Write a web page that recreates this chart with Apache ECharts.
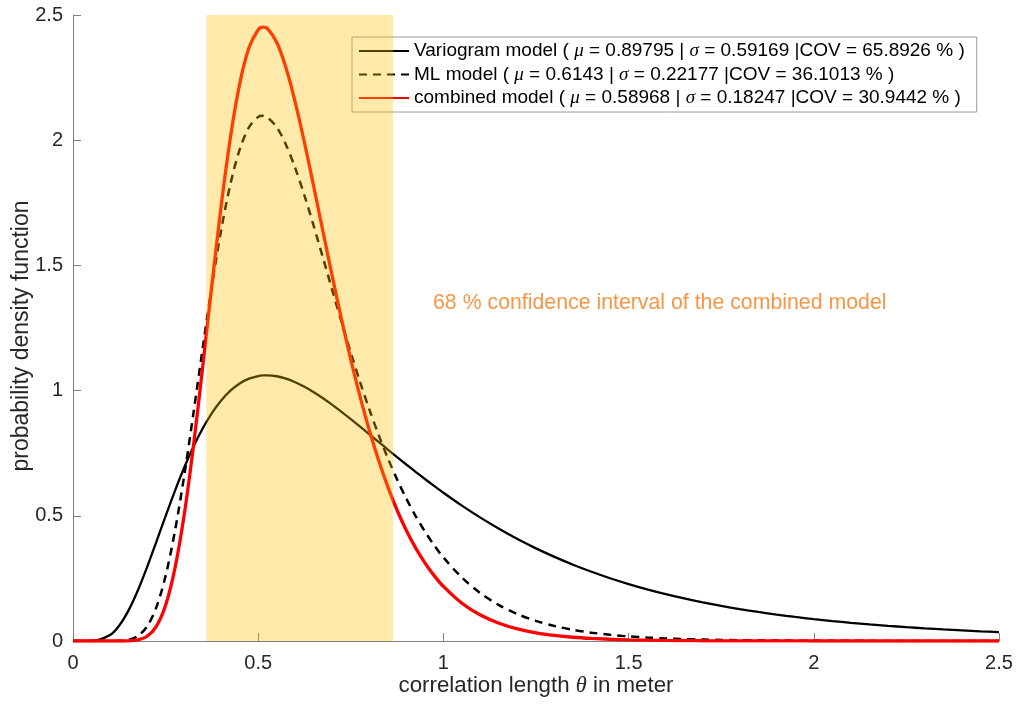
<!DOCTYPE html>
<html>
<head>
<meta charset="utf-8">
<script src="https://cdn.jsdelivr.net/npm/echarts@6/dist/echarts.min.js"></script>
<style>
html,body{margin:0;padding:0;background:#fff;}
#chart{width:1021px;height:706px;}
</style>
</head>
<body>
<div id="chart"></div>
<script>
// ---- data ----
const XS = [0, 0.05, 0.10,
  0.125, 0.15, 0.175, 0.20, 0.225, 0.25, 0.275, 0.30, 0.325, 0.35, 0.375, 0.40,
  0.425, 0.45, 0.475, 0.50, 0.5125, 0.525, 0.55, 0.575, 0.60, 0.625, 0.65, 0.675, 0.70,
  0.725, 0.75, 0.775, 0.80, 0.825, 0.85, 0.875, 0.90, 0.925, 0.95, 0.975, 1.00,
  1.05, 1.10, 1.15, 1.20, 1.25, 1.30, 1.35, 1.40, 1.45, 1.50,
  1.55, 1.60, 1.65, 1.70, 1.75, 1.80, 1.85, 1.90, 1.95, 2.00,
  2.05, 2.10, 2.15, 2.20, 2.25, 2.30, 2.35, 2.40, 2.45, 2.50];
const VARIOGRAM = [0, 0.0005, 0.0239,
  0.0620, 0.1222, 0.2016, 0.2949, 0.3960, 0.4988, 0.5986, 0.6917, 0.7756, 0.8487, 0.9104, 0.9606,
  0.9997, 1.0285, 1.0476, 1.0581, 1.0605, 1.0610, 1.0573, 1.0478, 1.0335, 1.0152, 0.9936, 0.9693, 0.9429,
  0.9149, 0.8858, 0.8559, 0.8256, 0.7952, 0.7647, 0.7346, 0.7048, 0.6756, 0.6471, 0.6193, 0.5922,
  0.5407, 0.4927, 0.4483, 0.4074, 0.3700, 0.3359, 0.3047, 0.2764, 0.2507, 0.2274,
  0.2063, 0.1872, 0.1700, 0.1544, 0.1402, 0.1275, 0.1159, 0.1055, 0.0960, 0.0875,
  0.0797, 0.0727, 0.0663, 0.0606, 0.0554, 0.0506, 0.0463, 0.0424, 0.0388, 0.0356];
const ML = [0, 0, 0,
  0.0006, 0.0045, 0.0193, 0.0577, 0.1343, 0.2599, 0.4370, 0.6580, 0.9080, 1.1677, 1.4176, 1.6407,
  1.8249, 1.9627, 2.0516, 2.0931, 2.0972, 2.0912, 2.0519, 1.9821, 1.8887, 1.7784, 1.6571, 1.5299, 1.4012,
  1.2741, 1.1513, 1.0344, 0.9249, 0.8233, 0.7300, 0.6450, 0.5682, 0.4991, 0.4374, 0.3825, 0.3338,
  0.2531, 0.1908, 0.1434, 0.1074, 0.0802, 0.0599, 0.0447, 0.0333, 0.0248, 0.0185,
  0.0138, 0.0103, 0.0077, 0.0058, 0.0043, 0.0033, 0.0025, 0.0019, 0.0014, 0.0011,
  0.0008, 0.0006, 0.0005, 0.0004, 0.0003, 0.0002, 0.0002, 0.0001, 0.0001, 0.0001];
const COMBINED = [0, 0, 0,
  0.0000, 0.0006, 0.0043, 0.0188, 0.0587, 0.1430, 0.2885, 0.5020, 0.7764, 1.0926, 1.4227, 1.7374,
  2.0110, 2.2248, 2.3689, 2.4410, 2.4512, 2.4454, 2.3910, 2.2890, 2.1513, 1.9897, 1.8145, 1.6343, 1.4560,
  1.2847, 1.1240, 0.9758, 0.8415, 0.7215, 0.6153, 0.5222, 0.4414, 0.3717, 0.3120, 0.2611, 0.2179,
  0.1509, 0.1036, 0.0709, 0.0482, 0.0327, 0.0222, 0.0150, 0.0102, 0.0069, 0.0046,
  0.0031, 0.0021, 0.0015, 0.0010, 0.0007, 0.0005, 0.0003, 0.0002, 0.0002, 0.0001,
  0, 0, 0, 0, 0, 0, 0, 0, 0, 0];
const SERIES_NAMES = ['Variogram model', 'ML model', 'combined model'];
const MU = ['0.89795', '0.6143', '0.58968'];
const SIGMA = ['0.59169', '0.22177', '0.18247'];
const COV = ['65.8926', '36.1013', '30.9442'];
const BAND = [0.36, 0.864];           // 68 % confidence interval of the combined model
const ANNOTATION = '68 % confidence interval of the combined model';
const X_TICKS = [0, 0.5, 1, 1.5, 2, 2.5];
const Y_TICKS = [0, 0.5, 1, 1.5, 2, 2.5];

const pairs = ys => XS.map((x, i) => [x, ys[i]]);
const FONT = 'Liberation Sans, Arial, sans-serif';
const SERIF = 'Liberation Serif, serif';

const chart = echarts.init(document.getElementById('chart'), null, {renderer: 'canvas'});

const axisCommon = {
  type: 'value',
  min: 0, max: 2.5, interval: 0.5,
  axisLine: {show: true, lineStyle: {color: '#808080', width: 1}},
  axisTick: {show: true, inside: true, length: 8, lineStyle: {color: '#808080'}},
  splitLine: {show: false},
  nameLocation: 'middle',
  nameMoveOverlap: false
};
const labelStyle = {color: '#262626', fontSize: 20, fontFamily: FONT};
const nameStyle = (size) => ({
  color: '#262626', fontSize: size, fontFamily: FONT,
  rich: {i: {fontStyle: 'italic', fontSize: size, fontFamily: SERIF, color: '#262626'}}
});

const option = {
  animation: false,
  backgroundColor: '#fff',
  grid: {left: 73, right: 22, top: 15, bottom: 65, containLabel: false, outerBoundsMode: 'none'},
  xAxis: Object.assign({}, axisCommon, {
    name: 'correlation length {i|θ} in meter',
    nameGap: 34,
    nameTextStyle: nameStyle(22.3),
    axisLabel: Object.assign({}, labelStyle, {margin: 12, formatter: v => X_TICKS.includes(v) ? String(v) : ''})
  }),
  yAxis: Object.assign({}, axisCommon, {
    name: 'probability density function',
    nameGap: 40,
    nameTextStyle: Object.assign(nameStyle(23), {padding: [0, 16, 0, 0]}),
    axisLabel: Object.assign({}, labelStyle, {margin: 10, formatter: v => Y_TICKS.includes(v) ? String(v) : ''})
  }),
  legend: {
    show: true,
    data: SERIES_NAMES,
    orient: 'vertical',
    left: 352, top: 37,
    z: 1,
    padding: [4, 12, 4, 6],
    itemWidth: 50, itemHeight: 14, itemGap: 3.5,
    backgroundColor: '#fff',
    borderColor: '#9a9a9a', borderWidth: 1,
    selectedMode: false,
    itemStyle: {opacity: 0},
    formatter: name => {
      const k = SERIES_NAMES.indexOf(name);
      return name + ' ( {i|μ} = ' + MU[k] + ' | {i|σ} = ' + SIGMA[k] + ' |COV = ' + COV[k] + ' % )';
    },
    textStyle: {
      color: '#000', fontSize: 19, fontFamily: FONT, lineHeight: 20,
      rich: {i: {fontStyle: 'italic', fontSize: 19, fontFamily: SERIF, color: '#000', lineHeight: 20}}
    }
  },
  series: [
    {
      name: SERIES_NAMES[0], type: 'line', data: pairs(VARIOGRAM),
      smooth: 0.3, symbol: 'none', z: 2,
      lineStyle: {color: '#000', width: 2.3}, itemStyle: {color: '#000'}
    },
    {
      name: SERIES_NAMES[1], type: 'line', data: pairs(ML),
      smooth: 0.3, symbol: 'none', z: 3,
      lineStyle: {color: '#000', width: 2.5, type: [8, 6]}, itemStyle: {color: '#000'}
    },
    {
      name: SERIES_NAMES[2], type: 'line', data: pairs(COMBINED),
      smooth: 0.3, symbol: 'none', z: 4,
      lineStyle: {color: '#ff0000', width: 3.3}, itemStyle: {color: '#ff0000'},
      markArea: {
        silent: true, z: 10,
        itemStyle: {color: 'rgba(255,190,0,0.33)', borderWidth: 0},
        data: [[{xAxis: BAND[0], yAxis: 0}, {xAxis: BAND[1], yAxis: 2.5}]]
      },
      markPoint: {
        silent: true, symbol: 'circle', symbolSize: 0, z: 11,
        label: {
          show: true, position: 'right', distance: 0,
          formatter: ANNOTATION,
          color: '#f79646', fontSize: 21.3, fontFamily: FONT
        },
        data: [{coord: [0.972, 1.35]}]
      }
    }
  ]
};
chart.setOption(option);
</script>
</body>
</html>
